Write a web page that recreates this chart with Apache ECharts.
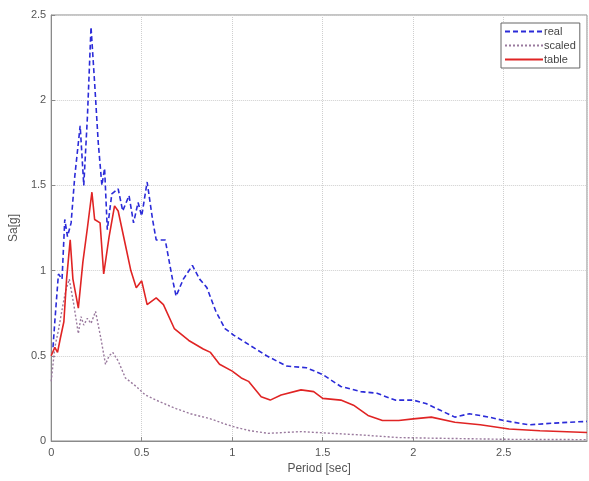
<!DOCTYPE html>
<html>
<head>
<meta charset="utf-8">
<script src="https://cdn.jsdelivr.net/npm/echarts@6/dist/echarts.min.js"></script>
<style>
  html, body { margin: 0; padding: 0; background: #fff; }
  #main { width: 589px; height: 481px; }
</style>
</head>
<body>
<div id="main"></div>
<script>
// 周期 (sec) / 谱加速度 Sa (g)
var realT = [0.01, 0.02, 0.04, 0.06, 0.075, 0.09, 0.11, 0.13, 0.16, 0.18, 0.2, 0.22, 0.24, 0.26, 0.28, 0.295, 0.31, 0.335, 0.37, 0.395, 0.43, 0.455, 0.48, 0.5, 0.53, 0.56, 0.58, 0.63, 0.67, 0.69, 0.73, 0.78, 0.82, 0.86, 0.91, 0.96, 1.01, 1.1, 1.19, 1.3, 1.41, 1.5, 1.6, 1.71, 1.8, 1.9, 2.0, 2.07, 2.15, 2.23, 2.31, 2.42, 2.5, 2.64, 2.78, 2.86, 2.96];
var realSa = [0.55, 0.7, 0.98, 0.95, 1.3, 1.2, 1.28, 1.55, 1.85, 1.5, 1.9, 2.43, 2.1, 1.75, 1.5, 1.6, 1.24, 1.45, 1.48, 1.35, 1.44, 1.28, 1.4, 1.32, 1.52, 1.3, 1.18, 1.18, 0.95, 0.85, 0.95, 1.03, 0.95, 0.9, 0.76, 0.66, 0.62, 0.56, 0.5, 0.44, 0.43, 0.39, 0.32, 0.29, 0.28, 0.24, 0.24, 0.22, 0.18, 0.14, 0.16, 0.14, 0.12, 0.095, 0.105, 0.11, 0.115];

var scaledT = [0.0, 0.01, 0.02, 0.04, 0.065, 0.08, 0.1, 0.125, 0.15, 0.165, 0.18, 0.2, 0.22, 0.245, 0.275, 0.3, 0.32, 0.34, 0.37, 0.41, 0.47, 0.52, 0.6, 0.69, 0.77, 0.88, 0.96, 1.02, 1.1, 1.2, 1.38, 1.55, 1.72, 1.92, 2.2, 2.5, 2.96];
var scaledSa = [0.35, 0.45, 0.55, 0.65, 0.8, 0.88, 0.95, 0.8, 0.63, 0.73, 0.68, 0.72, 0.69, 0.76, 0.6, 0.45, 0.5, 0.52, 0.47, 0.37, 0.32, 0.27, 0.23, 0.19, 0.16, 0.13, 0.1, 0.08, 0.06, 0.045, 0.055, 0.045, 0.035, 0.02, 0.015, 0.01, 0.008];

var tableT = [0.0, 0.02, 0.035, 0.05, 0.07, 0.085, 0.105, 0.12, 0.15, 0.175, 0.2, 0.225, 0.24, 0.27, 0.29, 0.32, 0.35, 0.37, 0.41, 0.44, 0.47, 0.5, 0.53, 0.58, 0.62, 0.68, 0.76, 0.84, 0.88, 0.93, 1.0, 1.05, 1.09, 1.16, 1.21, 1.27, 1.38, 1.45, 1.5, 1.6, 1.67, 1.75, 1.83, 1.92, 2.0, 2.1, 2.23, 2.37, 2.53, 2.7, 2.96];
var tableSa = [0.5, 0.55, 0.52, 0.6, 0.7, 0.95, 1.18, 0.95, 0.78, 1.05, 1.25, 1.46, 1.3, 1.28, 0.98, 1.2, 1.38, 1.35, 1.15, 1.0, 0.9, 0.94, 0.8, 0.84, 0.8, 0.66, 0.59, 0.54, 0.52, 0.45, 0.41, 0.37, 0.35, 0.26, 0.24, 0.27, 0.3, 0.29, 0.25, 0.24, 0.21, 0.15, 0.12, 0.12, 0.13, 0.14, 0.11, 0.095, 0.07, 0.06, 0.05];

var seriesNames = ['real', 'scaled', 'table'];

// 把 x / y 数组拼成点
function pairs(xs, ys) {
  var out = [];
  for (var i = 0; i < xs.length; i++) {
    out.push([xs[i], ys[i]]);
  }
  return out;
}

var chart = echarts.init(document.getElementById('main'), null, { renderer: 'canvas' });

var axisColor = '#8a8a8a';
var labelColor = '#555';

var option = {
  backgroundColor: '#ffffff',
  animation: false,
  grid: {
    left: 50,
    right: 2,
    top: 15,
    bottom: 40,
    show: true,
    borderColor: axisColor,
    borderWidth: 1
  },
  legend: {
    data: seriesNames,
    orient: 'vertical',
    left: 501,
    top: 23,
    itemWidth: 38,
    itemHeight: 10,
    itemGap: 3,
    padding: [3, 4, 3, 3],
    borderColor: '#666',
    borderWidth: 1,
    backgroundColor: '#fff',
    itemStyle: { opacity: 0 }, // 图例只画线，不画圆点
    textStyle: { color: '#444', fontSize: 11, fontFamily: 'Liberation Sans', padding: [0, 0, 0, -4] }
  },
  xAxis: {
    type: 'value',
    min: 0,
    max: 2.96,
    interval: 0.5,
    name: 'Period [sec]',
    nameLocation: 'middle',
    nameGap: 22,
    nameTextStyle: { color: labelColor, fontSize: 12, fontFamily: 'Liberation Sans' },
    axisLine: { lineStyle: { color: axisColor } },
    axisTick: { inside: true, length: 4, lineStyle: { color: axisColor } },
    axisLabel: { color: labelColor, fontSize: 11, fontFamily: 'Liberation Sans', margin: 6, showMaxLabel: false },
    splitLine: { show: true, lineStyle: { color: '#cfcfcf', type: 'dotted' } }
  },
  yAxis: {
    type: 'value',
    min: 0,
    max: 2.5,
    interval: 0.5,
    name: 'Sa[g]',
    nameLocation: 'middle',
    nameGap: 27,
    nameTextStyle: { color: labelColor, fontSize: 12, fontFamily: 'Liberation Sans' },
    axisLine: { show: true, lineStyle: { color: axisColor } },
    axisTick: { show: true, inside: true, length: 4, lineStyle: { color: axisColor } },
    axisLabel: { color: labelColor, fontSize: 11, fontFamily: 'Liberation Sans', margin: 5 },
    splitLine: { show: true, lineStyle: { color: '#cfcfcf', type: 'dotted' } }
  },
  series: [{
    name: 'real',
    type: 'line',
    data: pairs(realT, realSa),
    symbol: 'none',
    z: 3,
    lineStyle: { color: '#2b2bd8', width: 1.6, type: [5, 3] },
    itemStyle: { color: '#2b2bd8' }
  }, {
    name: 'scaled',
    type: 'line',
    data: pairs(scaledT, scaledSa),
    symbol: 'none',
    z: 2,
    lineStyle: { color: '#9a7a9e', width: 1.4, type: [2, 2] },
    itemStyle: { color: '#9a7a9e' }
  }, {
    name: 'table',
    type: 'line',
    data: pairs(tableT, tableSa),
    symbol: 'none',
    z: 4,
    lineStyle: { color: '#e02424', width: 1.6 },
    itemStyle: { color: '#e02424' }
  }]
};

chart.setOption(option);
</script>
</body>
</html>
